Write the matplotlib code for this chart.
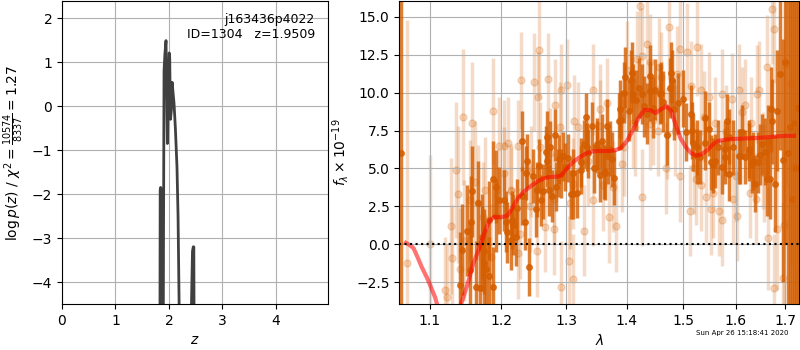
import matplotlib
matplotlib.use('Agg')
import numpy as np
import matplotlib.pyplot as plt
from matplotlib.ticker import FixedLocator, FormatStrFormatter, NullLocator

# p(z) curve
z_grid = [1.70, 1.826, 1.836, 1.845, 1.854, 1.864, 1.88, 1.898, 1.908, 1.925, 1.945,
          1.958, 1.97, 1.976, 1.99, 2.005, 2.014, 2.028, 2.045, 2.06, 2.077, 2.095,
          2.12, 2.15, 2.17, 2.19, 2.214, 2.25, 2.35, 2.44, 2.455, 2.465, 2.48, 2.492,
          2.51, 2.65, 3.0, 5.0]
log_pz = [-25, -9, -1.9, -1.85, -1.9, -9, -12, -3.0, 0.8, 1.2, 1.49,
          0.3, -0.85, -0.6, 0.6, 1.21, 1.1, -0.30, -0.1, 0.54, 0.3, 0.06,
          -0.5, -1.38, -2.5, -4.5, -6, -15, -9, -3.3, -3.2, -3.2, -9, -20,
          -40, -60, -60, -60]

# binned spectrum (dark)
wave_bin = [1.061, 1.141, 1.144, 1.151, 1.155, 1.157, 1.158, 1.164, 1.167, 1.170,
            1.173, 1.175, 1.178, 1.183, 1.189, 1.192, 1.197, 1.204, 1.208, 1.215,
            1.217, 1.222, 1.231, 1.236, 1.238, 1.242, 1.248, 1.252, 1.257, 1.260,
            1.263, 1.268, 1.270, 1.272, 1.278, 1.282, 1.284, 1.288, 1.292, 1.298,
            1.303, 1.307, 1.310, 1.317, 1.323, 1.328, 1.332, 1.334, 1.341, 1.345,
            1.350, 1.354, 1.358, 1.363, 1.367, 1.372, 1.375, 1.379, 1.386, 1.390,
            1.397, 1.403, 1.407, 1.411, 1.416, 1.421, 1.426, 1.430, 1.435, 1.440,
            1.446, 1.450, 1.458, 1.464, 1.470, 1.476, 1.480, 1.484, 1.490, 1.499,
            1.506, 1.514, 1.519, 1.526, 1.532, 1.541, 1.549, 1.553, 1.559, 1.566,
            1.573, 1.578, 1.583, 1.587, 1.594, 1.606, 1.613, 1.618, 1.626, 1.633,
            1.638, 1.645, 1.652, 1.659, 1.665, 1.668, 1.672, 1.678, 1.683, 1.688,
            1.695, 1.700, 1.705, 1.710, 1.714, 1.718, 1.722, 1.726,
            1.172, 1.175, 1.182, 1.188, 1.193, 1.209, 1.218, 1.224, 1.232, 1.239,
            1.254, 1.269, 1.275, 1.287, 1.295, 1.311, 1.323, 1.335, 1.349, 1.361,
            1.368, 1.389, 1.395, 1.409, 1.441, 1.459, 1.477, 1.516, 1.526, 1.541,
            1.556, 1.578, 1.587, 1.609, 1.626, 1.635, 1.649, 1.663, 1.670]
flux_bin = [6.0, -2.7, -0.35, 0.9, -1.7, 1.5, 3.5, -2.8, 2.7, -2.85,
            0.5, -0.45, -1.6, -2.1, 4.3, 3.8, 2.9, 2.9, 1.5, 0.3,
            1.6, 0.5, 6.8, 1.5, 4.7, -1.5, 4.5, 2.3, 5.15, 2.9,
            3.5, 6.1, 7.1, 3.55, 3.2, 7.2, 3.8, 5.6, 4.65, 5.1,
            5.7, 3.3, 3.3, 3.35, 4.9, 6.6, 8.4, 6.4, 7.8, 5.0,
            6.6, 4.6, 6.8, 4.7, 7.8, 6.3, 5.6, 4.4, 8.1, 8.2,
            11.0, 8.8, 10.8, 9.9, 9.5, 10.3, 9.9, 9.1, 8.6, 10.1,
            9.0, 10.2, 9.9, 9.4, 7.2, 10.3, 10.8, 8.9, 9.3, 9.6,
            7.4, 8.6, 6.7, 6.4, 5.75, 8.3, 7.6, 5.4, 5.5, 6.4,
            5.1, 5.75, 8.1, 4.65, 6.4, 5.8, 7.4, 5.75, 6.1, 5.3,
            4.0, 5.4, 6.6, 6.1, 6.8, 4.3, 8.1, 4.0, 8.8, 11.2,
            5.55, 12.0, 6.0, 7.7, 3.0, 8.0, 5.0, 9.0,
            -0.26, -1.24, 1.6, -2.8, 1.9, 0.8, 1.3, 2.4, 3.2, 5.5,
            3.6, 5.5, 6.4, 4.7, 5.8, 4.7, 5.4, 6.0, 6.4, 4.8,
            5.8, 8.9, 10.0, 11.3, 11.1, 10.0, 11.3, 7.5, 5.8, 6.7,
            5.2, 6.3, 7.1, 5.8, 6.3, 5.5, 5.9, 4.3, 8.9]
err_bin = [30, 3.5, 3.0, 3.0, 3.2, 3.0, 3.0, 3.0, 2.8, 3.0,
           2.8, 2.8, 2.6, 2.6, 2.5, 2.4, 2.2, 2.0, 2.0, 2.0,
           1.9, 1.9, 2.0, 1.9, 1.8, 1.9, 1.8, 1.8, 1.8, 1.7,
           1.8, 1.7, 1.7, 1.7, 1.7, 1.7, 1.6, 1.6, 1.6, 1.6,
           1.6, 1.6, 1.6, 1.6, 1.6, 1.6, 1.6, 1.6, 1.6, 1.6,
           1.7, 1.8, 1.8, 1.8, 1.8, 1.8, 1.8, 1.8, 1.9, 1.9,
           2.0, 2.0, 2.0, 2.0, 2.0, 2.0, 2.0, 2.0, 2.0, 2.0,
           2.0, 2.0, 2.0, 2.0, 2.0, 2.0, 2.0, 2.0, 2.0, 1.9,
           1.9, 1.9, 1.9, 1.8, 1.8, 1.8, 1.8, 1.8, 1.8, 1.8,
           1.8, 1.8, 1.8, 1.8, 1.8, 1.8, 1.8, 1.8, 1.9, 1.9,
           1.9, 2.0, 2.0, 2.2, 2.4, 2.6, 2.8, 3.2, 4.0, 5.0,
           8.0, 12, 15, 20, 25, 30, 30, 30,
           2.8, 2.8, 2.6, 2.6, 2.4, 2.0, 2.0, 1.9, 1.9, 1.8,
           1.8, 1.7, 1.7, 1.6, 1.6, 1.6, 1.6, 1.6, 1.7, 1.8,
           1.8, 1.9, 2.0, 2.0, 2.0, 2.0, 2.0, 1.9, 1.8, 1.8,
           1.8, 1.8, 1.8, 1.8, 1.9, 1.9, 2.0, 2.4, 2.8]

# unbinned spectrum (light)
wave_raw = [1.070, 1.100, 1.120, 1.123, 1.129, 1.130, 1.138, 1.141, 1.146, 1.147,
            1.158, 1.163, 1.166, 1.177, 1.185, 1.189, 1.197, 1.204, 1.211, 1.215,
            1.225, 1.225, 1.230, 1.245, 1.249, 1.254, 1.255, 1.257, 1.266, 1.271,
            1.275, 1.280, 1.282, 1.292, 1.292, 1.301, 1.305, 1.310, 1.311, 1.312,
            1.328, 1.335, 1.343, 1.355, 1.360, 1.366, 1.370, 1.381, 1.392, 1.400,
            1.410, 1.418, 1.423, 1.426, 1.435, 1.440, 1.445, 1.454, 1.460, 1.468,
            1.475, 1.485, 1.494, 1.495, 1.507, 1.512, 1.520, 1.526, 1.533, 1.534,
            1.543, 1.549, 1.553, 1.560, 1.567, 1.574, 1.580, 1.593, 1.600, 1.602,
            1.607, 1.618, 1.630, 1.640, 1.646, 1.655, 1.662, 1.665, 1.673, 1.677,
            1.683, 1.695, 1.698, 1.701, 1.712, 1.719, 1.725,
            1.136, 1.155, 1.174, 1.204, 1.215, 1.229, 1.244, 1.259, 1.280, 1.290,
            1.306, 1.319, 1.344, 1.355, 1.377, 1.395, 1.414, 1.426, 1.441, 1.456,
            1.470, 1.489, 1.514, 1.524, 1.538, 1.556, 1.573, 1.594, 1.613, 1.628,
            1.643, 1.656, 1.677]
flux_raw = [-1.2, 0.0, -3.0, -3.5, 1.2, -0.9, 3.3, -1.6, 8.4, 0.25,
            8.0, 4.1, 2.75, 3.55, -0.85, 8.8, 6.5, 6.5, 6.7, 3.5,
            6.5, -0.6, 10.8, 4.8, 10.7, -0.45, 9.7, 12.8, 1.15, 10.9,
            6.0, 1.0, 9.2, 10.2, -2.8, 10.5, -1.1, 4.0, -2.3, 8.15,
            0.9, 5.5, 10.2, 7.8, 3.9, 9.3, 1.8, 1.2, 5.3, 11.5,
            8.0, 12.2, 15.7, 3.1, 13.2, 12.0, 8.2, 7.5, 11.0, 5.0,
            14.3, 7.5, 12.9, 4.5, 12.7, 2.2, 5.0, 13.0, 10.2, 3.9,
            3.1, 9.7, 2.3, 8.0, 2.2, 1.6, 7.5, 9.6, 4.5, 1.9,
            10.2, 9.2, 8.0, 3.0, 10.2, 5.5, 11.7, 0.4, 15.5, -2.9,
            1.0, -2.2, 1.3, 11.9, 10.6, 5.1, 7.5,
            4.9, 2.9, 1.8, 4.7, 3.6, 0.7, 2.5, 6.4, 3.0, 7.7,
            2.7, 7.7, 2.9, 8.9, 3.8, 6.4, 7.7, 12.4, 7.9, 11.7,
            7.3, 11.2, 10.4, 4.3, 8.4, 3.4, 9.9, 3.0, 8.7, 3.4,
            9.9, 4.7, 14.2]
err_raw = [16, 5.9, 3.5, 3.5, 4.5, 3.5, 4.5, 4.0, 4.5, 4.0,
           4.0, 4.0, 3.8, 3.5, 3.5, 3.5, 3.2, 3.0, 3.0, 3.0,
           3.0, 3.0, 3.2, 3.0, 3.2, 3.0, 3.0, 3.2, 3.0, 3.0,
           3.0, 3.0, 3.0, 3.0, 3.0, 3.0, 3.0, 3.0, 3.0, 3.0,
           3.0, 3.0, 3.0, 3.0, 3.0, 3.0, 3.0, 3.0, 3.2, 3.2,
           3.0, 3.2, 3.4, 3.2, 3.2, 3.2, 3.0, 3.0, 3.0, 3.0,
           3.4, 3.0, 3.2, 3.0, 3.2, 3.0, 3.0, 3.2, 3.0, 3.0,
           3.0, 3.0, 3.0, 3.0, 3.0, 3.0, 3.0, 3.0, 3.0, 3.0,
           3.0, 3.0, 3.0, 3.0, 3.2, 3.2, 3.4, 3.4, 3.6, 3.6,
           4.0, 5.0, 6.0, 8.0, 12, 20, 25,
           4.5, 4.0, 3.6, 3.0, 3.0, 3.0, 3.0, 3.0, 3.0, 3.0,
           3.0, 3.0, 3.0, 3.0, 3.0, 3.2, 3.2, 3.2, 3.0, 3.2,
           3.0, 3.2, 3.0, 3.0, 3.0, 3.0, 3.0, 3.0, 3.0, 3.0,
           3.2, 3.2, 3.6]

# best-fit model
wave_mod = [1.068, 1.073, 1.078, 1.083, 1.089, 1.096, 1.102, 1.107, 1.111, 1.120,
            1.130, 1.138, 1.143, 1.152, 1.160, 1.168, 1.177, 1.183, 1.190, 1.200,
            1.210, 1.218, 1.226, 1.235, 1.245, 1.255, 1.265, 1.275, 1.285, 1.292,
            1.300, 1.310, 1.320, 1.330, 1.340, 1.350, 1.360, 1.370, 1.380, 1.390,
            1.400, 1.410, 1.420, 1.430, 1.440, 1.450, 1.460, 1.470, 1.478, 1.487,
            1.495, 1.505, 1.515, 1.525, 1.535, 1.545, 1.555, 1.565, 1.580, 1.600,
            1.620, 1.640, 1.660, 1.680, 1.700, 1.718]
flux_mod = [0.10, -0.05, -0.25, -0.8, -1.5, -2.2, -2.9, -3.5, -4.2, -6.0,
            -6.5, -5.0, -3.9, -2.6, -1.25, -0.3, 0.9, 1.55, 1.8, 1.78,
            1.9, 2.5, 3.1, 3.5, 3.85, 4.15, 4.35, 4.45, 4.45, 4.55,
            4.95, 5.4, 5.7, 5.95, 6.1, 6.15, 6.15, 6.15, 6.2, 6.35,
            6.8, 7.5, 8.3, 8.85, 8.85, 8.65, 8.9, 9.1, 8.8, 7.8,
            7.0, 6.4, 6.0, 5.85, 5.95, 6.2, 6.55, 6.8, 6.9, 6.95,
            6.98, 7.0, 7.05, 7.1, 7.15, 7.15]

grism_color = (0.835, 0.369, 0.0)

fig = plt.figure(figsize=(8, 3.5), dpi=100)

axz = fig.add_axes([0.0775, 0.1314, 0.3329, 0.8657])
axz.plot(z_grid, log_pz, color='0.25', lw=2)
axz.set_xlim(0, 4.98)
axz.set_ylim(-4.5, 2.39)
axz.set_xlabel('$z$')
axz.set_ylabel(r'$\log p(z)$' + ' / ' + r'$\chi^2=\frac{10574}{8337}=1.27$')
axz.grid()
axz.text(0.95, 0.96, 'j163436p4022\nID=1304   z=1.9509', ha='right', va='top',
         transform=axz.transAxes, fontsize=9)

ax = fig.add_axes([0.4991, 0.1314, 0.5, 0.8657])
ax.errorbar(wave_raw, flux_raw, yerr=err_raw, color=grism_color, alpha=0.22,
            marker='o', ms=5, lw=2.5, linestyle='None', zorder=1)
ax.errorbar(wave_bin, flux_bin, yerr=err_bin, color=grism_color, alpha=0.8,
            marker='o', ms=4, lw=2.5, linestyle='None', zorder=2)
ax.plot(wave_mod, flux_mod, color='r', alpha=0.55, lw=3, zorder=3)
ax.axhline(0, color='k', linestyle=':', lw=1.5, zorder=4)
ax.set_xscale('log')
ax.set_xlim(1.0594, 1.7294)
ax.set_ylim(-3.93, 16.03)
ax.xaxis.set_major_locator(FixedLocator([1.1, 1.2, 1.3, 1.4, 1.5, 1.6, 1.7]))
ax.xaxis.set_major_formatter(FormatStrFormatter('%.1f'))
ax.xaxis.set_minor_locator(NullLocator())
ax.set_xlabel(r'$\lambda$')
ax.set_ylabel(r'$f_\lambda\times10^{-19}$')
ax.grid()

fig.text(0.985, 0.04, 'Sun Apr 26 15:18:41 2020', ha='right', va='bottom', fontsize=5)

fig.savefig('out.png', dpi=100)
